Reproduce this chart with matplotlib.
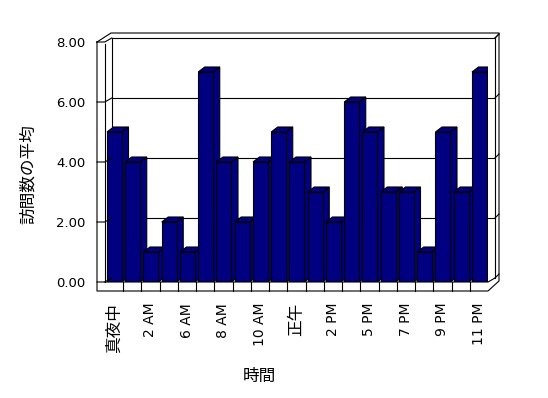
import matplotlib
matplotlib.use('Agg')
import matplotlib.pyplot as plt
import matplotlib.transforms as mtransforms
from matplotlib.patches import Polygon
from matplotlib.lines import Line2D

plt.rcParams['font.family'] = ['DejaVu Sans', 'Noto Sans CJK JP']

# data
hours = ['真夜中', '1 AM', '2 AM', '4 AM', '6 AM', '7 AM', '8 AM', '9 AM', '10 AM', '11 AM',
         '正午', '1 PM', '2 PM', '3 PM', '5 PM', '6 PM', '7 PM', '8 PM', '9 PM', '10 PM', '11 PM']
visits = [5, 4, 1, 2, 1, 7, 4, 2, 4, 5, 4, 3, 2, 6, 5, 3, 3, 1, 5, 3, 7]
yticks = [0, 2, 4, 6, 8]

W, H = 548, 398
fig = plt.figure(figsize=(W / 100, H / 100), dpi=100)
fig.patch.set_facecolor('white')
ax = fig.add_axes([104.75 / W, 116 / H, 383.25 / W, 240 / H])
ax.set_xlim(0, len(hours))
ax.set_ylim(0, 8)
ax.patch.set_visible(False)
for s in ax.spines.values():
    s.set_visible(False)

navy = '#000080'
lw = 0.8
# depth of bars in data units (about 6.5 px right, 5 px up)
ddx = 6.5 / 18.25
ddy = 5 / 30
bw = 0.822
off = 0.123

for i, v in enumerate(visits):
    x0 = i + off
    x1 = x0 + bw
    z = 3 + 2 * i
    side = Polygon([(x1, 0), (x1 + ddx, ddy), (x1 + ddx, v + ddy), (x1, v)],
                   closed=True, facecolor=navy, edgecolor='black', lw=lw, zorder=z)
    top = Polygon([(x0, v), (x0 + ddx, v + ddy), (x1 + ddx, v + ddy), (x1, v)],
                  closed=True, facecolor=navy, edgecolor='black', lw=lw, zorder=z)
    ax.add_patch(side)
    ax.add_patch(top)
    ax.bar(x0, v, width=bw, align='edge', color=navy, edgecolor='black', lw=lw, zorder=z + 1)

# back wall gridlines
back = mtransforms.offset_copy(ax.transData, fig=fig, x=7, y=4, units='dots')
for v in [2, 4, 6, 8]:
    ax.plot([0, len(hours)], [v, v], color='black', lw=lw, transform=back, zorder=1, clip_on=False)
ax.plot([0, 0], [0, 8], color='black', lw=lw, transform=back, zorder=1, clip_on=False)
ax.plot([len(hours), len(hours)], [0, 8], color='black', lw=lw, transform=back, zorder=1, clip_on=False)


def to_px(x, v):
    X, Y = ax.transData.transform((x, v))
    return X, H - Y


def line(pts):
    xs = [p[0] / W for p in pts]
    ys = [1 - p[1] / H for p in pts]
    fig.add_artist(Line2D(xs, ys, color='black', lw=lw, transform=fig.transFigure))


n = len(hours)
xl, y0 = to_px(0, 0)
xr, _ = to_px(n, 0)
_, ytop = to_px(0, 8)

# left wall: gridline pieces
for v in yticks:
    _, yf = to_px(0, v)
    line([(97, yf), (xl, yf), (xl + 7, yf - 4)])
    # right side small diagonal
    line([(xr + 7, yf - 4), (xr + 11, yf - 8)])

# frame
line([(97, ytop), (97, y0 + 9), (xr, y0 + 9), (xr + 11, y0 - 1), (xr + 11, ytop - 9),
      (111, ytop - 9), (97, ytop)])
line([(xl, ytop + 2), (xl, y0)])
line([(xl, y0), (xr, y0), (xr + 7, y0 - 4)])
line([(xr + 7, ytop - 4), (xr + 11, ytop - 8)])

# floor dividers
for k in range(1, n):
    xk, _ = to_px(k, 0)
    line([(xk, y0), (xk, y0 + 9)])

# ticks and labels
ax.set_yticks(yticks)
ax.set_yticklabels([f'{v:.2f}' for v in yticks], fontsize=9.5)
ax.tick_params(axis='y', length=0, pad=14)
pos = [k + 0.5 for k in range(0, n, 2)]
ax.set_xticks(pos)
labs = ax.set_xticklabels(hours[::2], rotation=90)
for t in labs:
    t.set_fontsize(12 if not t.get_text()[0].isdigit() else 10)
ax.tick_params(axis='x', length=0, pad=15)

fig.text(28 / W, 1 - 174 / H, '訪問数の平均', rotation=90, fontsize=12, ha='center', va='center')
fig.text(259 / W, 1 - 376 / H, '時間', fontsize=12, ha='center', va='center')

fig.savefig('out.png', dpi=100)
